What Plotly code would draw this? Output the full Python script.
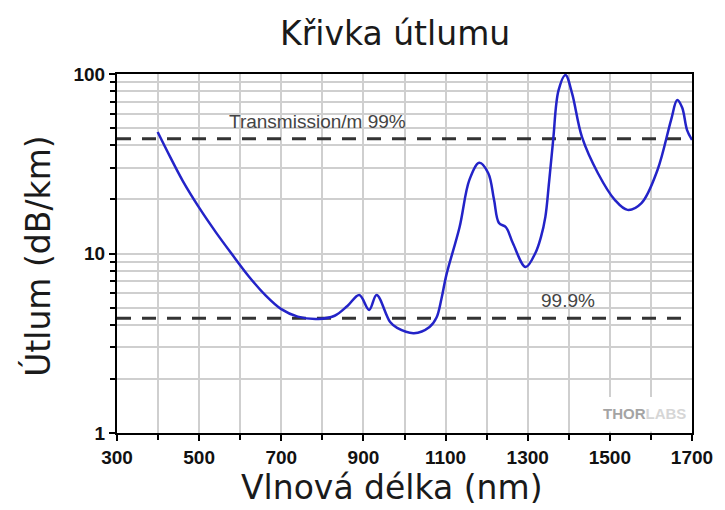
import math
import plotly.graph_objects as go

# Attenuation curve of the fibre (wavelength in nm, attenuation in dB/km)
wavelength = [399, 430, 460, 500, 540, 580, 620, 660, 700, 740, 790, 830, 861, 890, 914, 932,
              965, 982, 1023, 1061, 1078, 1090, 1102, 1134, 1158, 1182, 1204, 1218, 1230, 1247,
              1264, 1295, 1319, 1332, 1343, 1352, 1362, 1375, 1392, 1408, 1432, 1471, 1512,
              1543, 1577, 1616, 1649, 1664, 1676, 1688, 1700]
attenuation = [47.5, 34.3, 25.4, 18.0, 13.2, 9.9, 7.5, 5.9, 4.9, 4.45, 4.32, 4.5, 5.1, 5.87, 4.85, 5.87,
               4.15, 3.85, 3.6, 3.9, 4.4, 5.6, 7.6, 14.0, 25.7, 32.0, 28.0, 19.9, 14.8, 14.0,
               11.4, 8.4, 10.1, 12.3, 16.0, 25.0, 43.0, 81.0, 98.7, 78.0, 44.6, 28.0, 19.9,
               17.5, 19.1, 29.2, 55.4, 71.6, 65.0, 48.7, 42.9]

# Reference levels: transmission per metre of 99 % and 99.9 %
level_labels = ["Transmission/m 99%", "99.9%"]
level_values = [43.6, 4.36]
label_x = [789, 1399]
label_y = [54.7, 5.5]

x_ticks = [300, 500, 700, 900, 1100, 1300, 1500, 1700]
y_ticks = [1, 10, 100]
y_minor = [2, 3, 4, 5, 6, 7, 8, 9, 20, 30, 40, 50, 60, 70, 80, 90]

GRID = "#cfcfcf"
TITLE_FONT = dict(family="DejaVu Sans", size=33, color="#1a1a1a")

fig = go.Figure()

for v in level_values:
    fig.add_trace(go.Scatter(
        x=[300, 1700], y=[v, v], mode="lines",
        line=dict(color="#333333", width=3, dash="14px,11px"),
        hoverinfo="skip", showlegend=False))

fig.add_trace(go.Scatter(
    x=wavelength, y=attenuation, mode="lines",
    line=dict(color="#2323c8", width=2.5, shape="spline", smoothing=1.0),
    showlegend=False))

# Level labels (annotation y on a log axis is given as log10)
for txt, xv, yv in zip(level_labels, label_x, label_y):
    fig.add_annotation(x=xv, y=math.log10(yv), yref="y", xref="x", text=txt, showarrow=False,
                       font=dict(family="Arial, Liberation Sans", size=19, color="#444444"))

# Logo corner: clear the grid behind the brand mark
fig.add_shape(type="rect", x0=1455, x1=1692, y0=1.02, y1=1.585, xref="x", yref="y",
              fillcolor="white", line=dict(width=0), layer="between")
fig.add_annotation(x=1584, y=math.log10(1.29), xref="x", yref="y", showarrow=False,
                   text="<b><span style='color:#a4a4a4'>THOR</span>"
                        "<span style='color:#d6d6d6'>LABS</span></b>",
                   font=dict(family="Arial, Liberation Sans", size=15))

# Axis titles
fig.add_annotation(x=0.478, y=-0.152, xref="paper", yref="paper", showarrow=False,
                   text="Vlnová délka (nm)", font=TITLE_FONT, xanchor="center", yanchor="middle")
fig.add_annotation(x=-0.1377, y=0.493, xref="paper", yref="paper", showarrow=False,
                   text="Útlum (dB/km)", textangle=-90, font=TITLE_FONT,
                   xanchor="center", yanchor="middle")

axis_common = dict(
    showline=True, linecolor="black", linewidth=2, mirror=True,
    ticks="outside", tickcolor="black", tickwidth=1.5, ticklen=6,
    tickfont=dict(family="Arial, Liberation Sans", size=19, color="#111111", weight="bold"),
    showgrid=True, gridcolor=GRID, gridwidth=1.5, zeroline=False,
)

fig.update_xaxes(
    range=[300, 1700], tickvals=x_ticks, ticktext=[str(t) for t in x_ticks],
    minor=dict(dtick=100, tick0=300, ticks="outside", ticklen=5, tickcolor="black",
               showgrid=True, gridcolor=GRID, gridwidth=1.5),
    **axis_common)

fig.update_yaxes(
    type="log", range=[0, 2], tickvals=y_ticks, ticktext=[str(t) for t in y_ticks],
    minor=dict(tickvals=y_minor, ticks="outside", ticklen=5, tickcolor="black",
               showgrid=True, gridcolor=GRID, gridwidth=1.5),
    **axis_common)

fig.update_layout(
    width=725, height=510,
    margin=dict(l=117, r=27, t=74, b=77),
    paper_bgcolor="white", plot_bgcolor="white",
    title=dict(text="Křivka útlumu", x=0.545, xanchor="center", y=0.935, yanchor="middle",
               xref="container", yref="container", font=TITLE_FONT),
)

fig.write_html("out.html")
